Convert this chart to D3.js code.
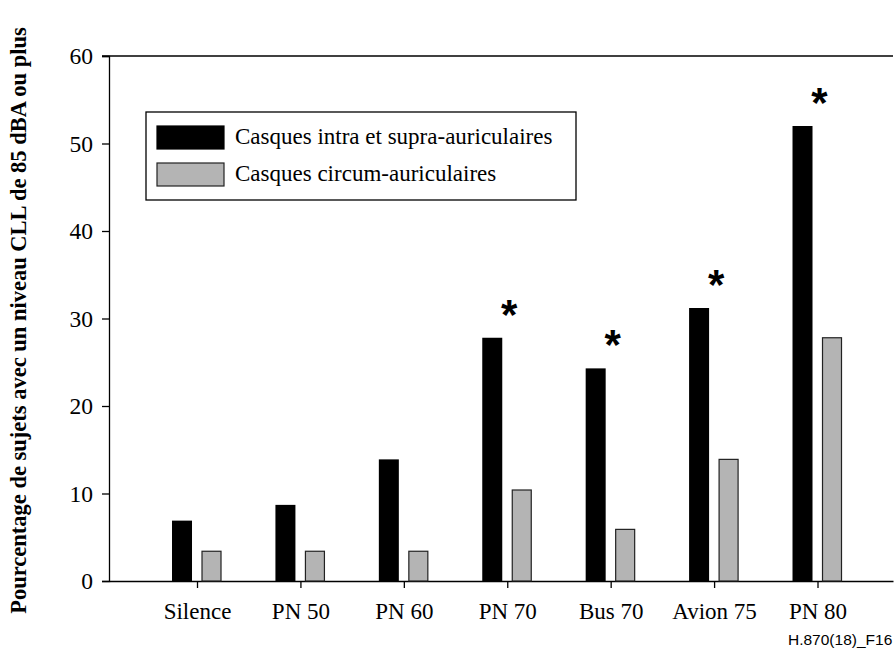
<!DOCTYPE html>
<html>
<head>
<meta charset="utf-8">
<script src="https://cdn.jsdelivr.net/npm/d3@7"></script>
<style>
  html, body { margin: 0; padding: 0; background: #fff; }
  svg { display: block; }
</style>
</head>
<body>
<div id="chart"></div>
<script>
// data
const categories = ["Silence", "PN 50", "PN 60", "PN 70", "Bus 70", "Avion 75", "PN 80"];
const intraSupra = [6.9, 8.7, 13.9, 27.8, 24.3, 31.2, 52.0];
const circum = [3.4, 3.4, 3.4, 10.4, 5.9, 13.9, 27.8];
const significant = [false, false, false, true, true, true, true];
const seriesNames = ["Casques intra et supra-auriculaires", "Casques circum-auriculaires"];
const yTicks = [0, 10, 20, 30, 40, 50, 60];

const W = 895, H = 648;
const margin = {left: 109, top: 56, right: 2, bottom: 67};

const svg = d3.select("#chart").append("svg")
    .attr("width", W)
    .attr("height", H);

const x = d3.scaleLinear()
    .domain([-0.851, 6.73])
    .range([margin.left, W - margin.right]);

const y = d3.scaleLinear()
    .domain([0, 60])
    .range([H - margin.bottom, margin.top]);

const serif = "'Liberation Serif', 'Times New Roman', serif";

// y axis
const yAxis = svg.append("g")
    .attr("transform", `translate(${margin.left},0)`)
    .call(d3.axisLeft(y).tickValues(yTicks).tickSize(7).tickPadding(9));
yAxis.select(".domain").attr("stroke", "#000").attr("stroke-width", 1.3);
yAxis.selectAll(".tick line").attr("stroke", "#000").attr("stroke-width", 1.3);
yAxis.selectAll(".tick text")
    .attr("font-family", serif)
    .attr("font-size", 23.5)
    .attr("fill", "#000");

// x axis
const xAxis = svg.append("g")
    .attr("transform", `translate(0,${y(0)})`)
    .call(d3.axisBottom(x)
        .tickValues(d3.range(categories.length))
        .tickFormat(i => categories[i])
        .tickSize(7)
        .tickSizeOuter(0)
        .tickPadding(15));
xAxis.select(".domain").attr("stroke", "#000").attr("stroke-width", 1.3);
xAxis.selectAll(".tick line").attr("stroke", "#000").attr("stroke-width", 1.3);
xAxis.selectAll(".tick text")
    .attr("font-family", serif)
    .attr("font-size", 23)
    .attr("fill", "#000");

// top frame line
svg.append("line")
    .attr("x1", margin.left - 7)
    .attr("x2", W - margin.right)
    .attr("y1", y(60))
    .attr("y2", y(60))
    .attr("stroke", "#000")
    .attr("stroke-width", 1.3);

// bars
const barW = 20, gap = 5;

svg.append("g")
    .selectAll("rect")
    .data(intraSupra)
    .join("rect")
    .attr("x", (d, i) => x(i) - gap - barW)
    .attr("y", d => y(d))
    .attr("width", barW)
    .attr("height", d => y(0) - y(d))
    .attr("fill", "#000");

svg.append("g")
    .selectAll("rect")
    .data(circum)
    .join("rect")
    .attr("x", (d, i) => x(i) + gap)
    .attr("y", d => y(d))
    .attr("width", barW - 1)
    .attr("height", d => y(0) - y(d))
    .attr("fill", "#b4b4b4")
    .attr("stroke", "#222")
    .attr("stroke-width", 1.2);

// asterisks for significant differences
svg.append("g")
    .selectAll("text")
    .data(intraSupra.map((v, i) => ({v, i})).filter(d => significant[d.i]))
    .join("text")
    .attr("x", d => x(d.i) + 2)
    .attr("y", d => y(d.v) - 9)
    .attr("text-anchor", "middle")
    .attr("font-family", "'Liberation Sans', Arial, sans-serif")
    .attr("font-weight", "bold")
    .attr("font-size", 42)
    .text("*");

// legend
const legend = svg.append("g").attr("transform", "translate(146,112)");
legend.append("rect")
    .attr("width", 430)
    .attr("height", 88)
    .attr("fill", "#fff")
    .attr("stroke", "#000")
    .attr("stroke-width", 1.3);
const item = legend.selectAll("g.item")
    .data(seriesNames)
    .join("g")
    .attr("class", "item")
    .attr("transform", (d, i) => `translate(11,${14 + i * 37})`);
item.append("rect")
    .attr("width", 67)
    .attr("height", 23)
    .attr("fill", (d, i) => i === 0 ? "#000" : "#b4b4b4")
    .attr("stroke", (d, i) => i === 0 ? "#000" : "#222")
    .attr("stroke-width", 1.2);
item.append("text")
    .attr("x", 78)
    .attr("y", 18)
    .attr("font-family", serif)
    .attr("font-size", 23)
    .text(d => d);

// y axis title
svg.append("text")
    .attr("transform", `translate(26,${(margin.top + y(0)) / 2 + 2}) rotate(-90)`)
    .attr("text-anchor", "middle")
    .attr("font-family", serif)
    .attr("font-weight", "bold")
    .attr("font-size", 22.5)
    .text("Pourcentage de sujets avec un niveau CLL de 85 dBA ou plus");

// figure reference
svg.append("text")
    .attr("x", 788)
    .attr("y", 645)
    .attr("font-family", "'Liberation Sans', Arial, sans-serif")
    .attr("font-size", 15.5)
    .text("H.870(18)_F16");
</script>
</body>
</html>
